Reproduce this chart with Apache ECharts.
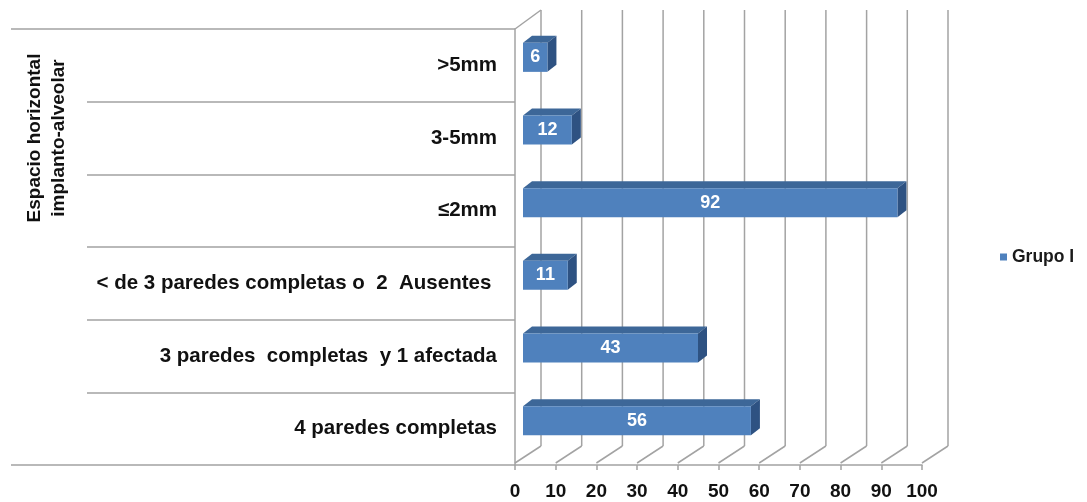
<!DOCTYPE html>
<html>
<head>
<meta charset="utf-8">
<title>Grupo I</title>
<script src="https://cdn.jsdelivr.net/npm/echarts@6/dist/echarts.min.js"></script>
<style>
  html, body { margin: 0; padding: 0; background: #ffffff; }
  #chart { width: 1087px; height: 502px; }
</style>
</head>
<body>
<div id="chart"></div>
<script>
// Categories, listed top to bottom
const categories = [
  '>5mm',
  '3-5mm',
  '\u22642mm',
  '< de 3 paredes completas o  2  Ausentes ',
  '3 paredes  completas  y 1 afectada',
  '4 paredes completas'
];
// Group headings, top to bottom
const groups = [
  'Espacio horizontal\nimplanto-alveolar',
  'Integridad alveolar'
];
const seriesName = 'Grupo I';
const grupoI = [6, 12, 92, 11, 43, 56];
// Value-axis ticks
const xTicks = [0, 10, 20, 30, 40, 50, 60, 70, 80, 90, 100];

const FONT = "'Liberation Sans', Arial, sans-serif";
const GRID = '#a3a3a3';
const FRONT = '#4f81bd';
const TOP = '#3d6798';
const SIDE = '#2e5282';
// depth of the chart box (back wall offset)
const DEPTH = [26, -19];
// bar offset and bar depth inside the box
const BAR_SHIFT = [8, -8];
const BAR_DEPTH = [9, -7];

const chart = echarts.init(document.getElementById('chart'), null, { renderer: 'canvas' });

function renderWalls(params, api) {
  const cs = params.coordSys;
  const v = api.value(0);
  const x = api.coord([v, 0])[0];
  const bottom = cs.y + cs.height;
  const top = cs.y;
  const children = [
    // floor line
    { type: 'line', shape: { x1: x, y1: bottom - 2, x2: x + DEPTH[0], y2: bottom + DEPTH[1] },
      style: { stroke: GRID, lineWidth: 1.5 } },
    // back wall line
    { type: 'line', shape: { x1: x + DEPTH[0], y1: bottom + DEPTH[1], x2: x + DEPTH[0], y2: top + DEPTH[1] },
      style: { stroke: GRID, lineWidth: 1.5 } }
  ];
  if (params.dataIndex === 0) {
    // top edge of the side wall
    children.push({ type: 'line', shape: { x1: x, y1: top, x2: x + DEPTH[0], y2: top + DEPTH[1] },
      style: { stroke: GRID, lineWidth: 1.5 } });
  }
  return { type: 'group', children };
}

function renderBar(params, api) {
  const idx = api.value(0);
  const v = api.value(1);
  const base = api.coord([0, idx]);
  const end = api.coord([v, idx]);
  const band = api.size([0, 1])[1];
  const h = band * 0.4;
  const cy = base[1] + BAR_SHIFT[1];
  const x0 = base[0] + BAR_SHIFT[0];
  const x1 = end[0] + BAR_SHIFT[0];
  const y0 = cy - h / 2;
  const y1 = cy + h / 2;
  const dx = BAR_DEPTH[0], dy = BAR_DEPTH[1];
  return {
    type: 'group',
    children: [
      { type: 'polygon', shape: { points: [[x0, y0], [x1, y0], [x1 + dx, y0 + dy], [x0 + dx, y0 + dy]] },
        style: { fill: TOP } },
      { type: 'polygon', shape: { points: [[x1, y0], [x1 + dx, y0 + dy], [x1 + dx, y1 + dy], [x1, y1]] },
        style: { fill: SIDE } },
      { type: 'rect', shape: { x: x0, y: y0, width: x1 - x0, height: h },
        style: { fill: FRONT } },
      { type: 'text', style: { text: String(v), x: (x0 + x1) / 2, y: cy,
        align: 'center', verticalAlign: 'middle', fill: '#ffffff',
        font: 'bold 18px ' + FONT } }
    ]
  };
}

chart.setOption({
  animation: false,
  backgroundColor: '#ffffff',
  textStyle: { fontFamily: FONT },
  grid: { left: 515, top: 29, width: 407, height: 436 },
  legend: {
    data: [seriesName],
    left: 1000, top: 248, padding: 0,
    icon: 'rect', itemWidth: 7, itemHeight: 7, itemGap: 5,
    textStyle: { fontFamily: FONT, fontSize: 17.5, fontWeight: 'bold', color: '#1a1a1a' }
  },
  xAxis: {
    type: 'value', min: 0, max: 100, interval: 10,
    axisLine: { show: true, lineStyle: { color: GRID, width: 1.5 } },
    axisTick: { show: true, length: 5, lineStyle: { color: GRID, width: 1.5 } },
    splitLine: { show: false },
    axisLabel: { margin: 17, fontSize: 19, fontWeight: 'bold', color: '#111', fontFamily: FONT }
  },
  yAxis: [
    {
      type: 'category', data: categories, inverse: true, position: 'left',
      axisLine: { show: true, lineStyle: { color: GRID, width: 1.5 } },
      axisTick: { show: true, length: 428, lineStyle: { color: GRID, width: 1.5 } },
      axisLabel: { margin: 18, fontSize: 20.5, fontWeight: 'bold', color: '#111', fontFamily: FONT,
        padding: [3, 0, 0, 0] }
    },
    {
      type: 'category', data: groups, inverse: true, position: 'left', offset: 0,
      axisLine: { show: false },
      axisTick: { show: true, length: 504, lineStyle: { color: GRID, width: 1.5 } },
      axisLabel: {
        margin: 444, rotate: 90, align: 'center', verticalAlign: 'bottom',
        fontSize: 19, lineHeight: 24, fontWeight: 'bold', color: '#111', fontFamily: FONT
      }
    }
  ],
  series: [
    {
      type: 'custom', name: 'walls', xAxisIndex: 0, yAxisIndex: 0,
      renderItem: renderWalls, silent: true, z: 1,
      data: xTicks.map(v => [v, 0]), encode: { x: 0, y: 1 }
    },
    {
      type: 'custom', name: seriesName, xAxisIndex: 0, yAxisIndex: 0,
      itemStyle: { color: FRONT },
      renderItem: renderBar, z: 3,
      data: grupoI.map((v, i) => [i, v]), encode: { x: 1, y: 0 }
    }
  ]
});
</script>
</body>
</html>
